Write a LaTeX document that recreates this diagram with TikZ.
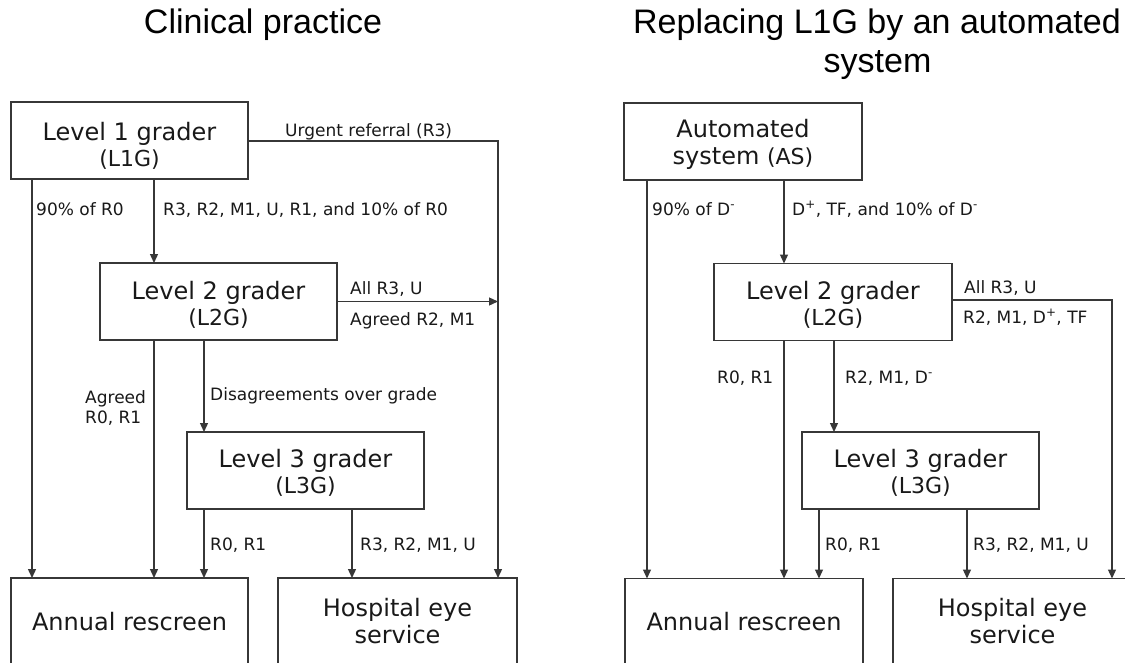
\documentclass[tikz,border=0pt]{standalone}
\usepackage{fontspec}
\setmainfont{DejaVu Sans}
\newfontfamily\titlefont{Liberation Sans}
\usetikzlibrary{arrows.meta}
\definecolor{ln}{RGB}{55,55,55}
\definecolor{tx}{RGB}{25,25,25}
\newcommand{\dneg}{D\textsuperscript{-}}
\newcommand{\dpos}{D\textsuperscript{+}}
\begin{document}
\begin{tikzpicture}[x=1pt,y=-1pt,
 box/.style={draw=ln, line width=1.3pt, minimum width=237pt, minimum height=77pt, inner sep=0pt, outer sep=0pt},
 big/.style={anchor=base, text=tx, font=\fontsize{24}{28}\selectfont, inner sep=0pt},
 small/.style={anchor=base, text=tx, font=\fontsize{22}{26}\selectfont, inner sep=0pt},
 lab/.style={anchor=base west, text=tx, font=\fontsize{17}{20}\selectfont, inner sep=0pt},
 ttl/.style={anchor=base, text=black, font=\titlefont\fontsize{34}{40}\selectfont, inner sep=0pt},
 arr/.style={draw=ln, line width=1.3pt, -{Triangle[length=9pt,width=8pt]}}
]
\useasboundingbox (0,0) rectangle (1125,662);
\clip (0,0) rectangle (1125,662);
\fill[white] (0,0) rectangle (1125,662);

% titles
\node[ttl] (title1) at (263,33) {Clinical practice};
\node[ttl] (title2a) at (877,33) {Replacing L1G by an automated};
\node[ttl] (title2b) at (877.5,72) {system};

% ---------- left panel ----------
\node[box] (l1g) at (129.5,140.5) {};
\node[big] (l1gA) at (129.5,140) {Level 1 grader};
\node[small] (l1gB) at (129.5,166) {(L1G)};
\node[box] (l2g) at (218.5,301.5) {};
\node[big] (l2gA) at (218.5,299) {Level 2 grader};
\node[small] (l2gB) at (218.5,325) {(L2G)};
\node[box] (l3g) at (305.5,470.5) {};
\node[big] (l3gA) at (305.5,467) {Level 3 grader};
\node[small] (l3gB) at (305.5,493) {(L3G)};
\node[box, minimum height=88pt] (ann) at (129.5,622) {};
\node[big] (annA) at (129.5,630) {Annual rescreen};
\node[box, minimum width=239pt, minimum height=88pt] (hes) at (397.5,622) {};
\node[big] (hesA) at (397.5,616) {Hospital eye};
\node[big] (hesB) at (397.5,643) {service};

\coordinate (xa) at (32,0);
\coordinate (xb) at (154,0);
\coordinate (xc) at (204,0);
\coordinate (xd) at (352,0);
\coordinate (cL) at (498,141);

\draw[arr] (l1g.south -| xa) -- (ann.north -| xa);
\draw[arr] (l1g.south -| xb) -- (l2g.north -| xb);
\draw[arr] (l2g.south -| xb) -- (ann.north -| xb);
\draw[arr] (l2g.south -| xc) -- (l3g.north -| xc);
\draw[arr] (l3g.south -| xc) -- (ann.north -| xc);
\draw[arr] (l3g.south -| xd) -- (hes.north -| xd);
\draw[arr] (l1g.east |- cL) -- (cL) -- (cL |- hes.north);
\draw[arr] (l2g.east) -- (l2g.east -| cL);

\node[lab] (t1) at (36,215) {90\% of R0};
\node[lab] (t2) at (163,215) {R3, R2, M1, U, R1, and 10\% of R0};
\node[lab] (t3) at (285,136) {Urgent referral (R3)};
\node[lab] (t4) at (350,294) {All R3, U};
\node[lab] (t5) at (350,325) {Agreed R2, M1};
\node[lab] (t6) at (85,403) {Agreed};
\node[lab] (t7) at (85,423) {R0, R1};
\node[lab] (t8) at (210,400) {Disagreements over grade};
\node[lab] (t9) at (210,550) {R0, R1};
\node[lab] (t10) at (360,550) {R3, R2, M1, U};

% ---------- right panel ----------
\node[box, minimum width=238pt] (as) at (743,141.5) {};
\node[big] (asA) at (743,137) {Automated};
\node[big] (asB) at (743,164) {system {\fontsize{22}{26}\selectfont (AS)}};
\node[box, minimum width=238pt] (l2gR) at (833,302) {};
\node[big] (l2gRA) at (833,299) {Level 2 grader};
\node[small] (l2gRB) at (833,325) {(L2G)};
\node[box] (l3gR) at (920.5,470.5) {};
\node[big] (l3gRA) at (920.5,467) {Level 3 grader};
\node[small] (l3gRB) at (920.5,493) {(L3G)};
\node[box, minimum width=238pt, minimum height=88pt] (annR) at (744,622.5) {};
\node[big] (annRA) at (744,630) {Annual rescreen};
\node[box, minimum width=239pt, minimum height=88pt] (hesR) at (1012.5,622.5) {};
\node[big] (hesRA) at (1012.5,616) {Hospital eye};
\node[big] (hesRB) at (1012.5,643) {service};

\coordinate (ya) at (647,0);
\coordinate (yb) at (784,0);
\coordinate (yc) at (834,0);
\coordinate (yd) at (819,0);
\coordinate (ye) at (967,0);
\coordinate (cR) at (1112,300);

\draw[arr] (as.south -| ya) -- (annR.north -| ya);
\draw[arr] (as.south -| yb) -- (l2gR.north -| yb);
\draw[arr] (l2gR.south -| yb) -- (annR.north -| yb);
\draw[arr] (l2gR.south -| yc) -- (l3gR.north -| yc);
\draw[arr] (l3gR.south -| yd) -- (annR.north -| yd);
\draw[arr] (l3gR.south -| ye) -- (hesR.north -| ye);
\draw[arr] (l2gR.east |- cR) -- (cR) -- (cR |- hesR.north);

\node[lab] (r1) at (652,215) {90\% of \dneg};
\node[lab] (r2) at (792,215) {\dpos, TF, and 10\% of \dneg};
\node[lab] (r3) at (964,293) {All R3, U};
\node[lab] (r4) at (963,323) {R2, M1, \dpos, TF};
\node[lab] (r5) at (717,383) {R0, R1};
\node[lab] (r6) at (845,383) {R2, M1, \dneg};
\node[lab] (r7) at (825,550) {R0, R1};
\node[lab] (r8) at (973,550) {R3, R2, M1, U};
\end{tikzpicture}
\end{document}
